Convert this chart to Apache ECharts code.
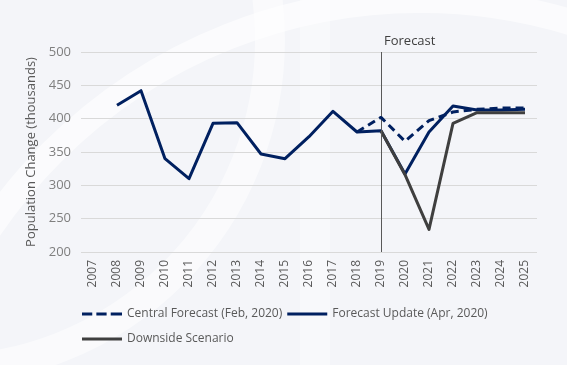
<!DOCTYPE html>
<html><head><meta charset="utf-8">
<script src="https://cdn.jsdelivr.net/npm/echarts@6/dist/echarts.min.js"></script>
<style>html,body{margin:0;padding:0;background:#f4f5f9}#c{width:567px;height:365px}</style>
</head><body><div id="c"></div>
<script>
const years = ['2007','2008','2009','2010','2011','2012','2013','2014','2015','2016','2017','2018','2019','2020','2021','2022','2023','2024','2025'];
const centralForecast = [null,null,null,null,null,null,null,null,null,null,null,380,402,366,397,410,414,416,416];
const forecastUpdate = [null,420,442,340,310,393,394,347,340,373,411,380,382,317,380,419,413,413,414];
const downside = [null,null,null,null,null,null,null,null,null,null,null,null,382,316,234,393,409,409,409];
const yTicks = [200,250,300,350,400,450,500];
const forecastYear = '2019';
const names = ['Central Forecast (Feb, 2020)','Forecast Update (Apr, 2020)','Downside Scenario'];

const dashIcon = 'path://M0,0h10v3h-10z M14,0h10v3h-10z M28,0h11v3h-11z';
const solidIcon = 'path://M0,0h40v3h-40z';
const chart = echarts.init(document.getElementById('c'));
const font = 'Open Sans, Noto Sans, sans-serif';
const legendBase = {
  itemWidth: 40, itemHeight: 4, itemGap: 5,
  textStyle: {color:'#595959', fontSize:12, fontFamily:font}
};
chart.setOption({
  backgroundColor: '#f4f5f9',
  animation: false,
  graphic: [
    {type:'circle', silent:true, z:-10, shape:{cx:420, cy:520, r:520}, style:{fill:'none', stroke:'#ffffff', lineWidth:26, opacity:0.6}},
    {type:'circle', silent:true, z:-10, shape:{cx:-60, cy:40, r:330}, style:{fill:'none', stroke:'#ffffff', lineWidth:30, opacity:0.5}},
    {type:'rect', silent:true, z:-10, shape:{x:300, y:0, width:30, height:365}, style:{fill:'#ffffff', opacity:0.4}}
  ],
  grid: {left:81, right:30, top:52, bottom:113},
  legend: [
    Object.assign({left:77, top:303, data:[{name:names[0], icon:dashIcon},{name:names[1], icon:solidIcon}]}, legendBase),
    Object.assign({left:77, top:328, data:[{name:names[2], icon:solidIcon}]}, legendBase)
  ],
  xAxis: {
    type:'category', data: years, boundaryGap:true,
    axisLine:{show:false}, axisTick:{show:false},
    axisLabel:{rotate:90, color:'#595959', fontSize:12, fontFamily:font, margin:8, interval:0}
  },
  yAxis: {
    type:'value', min:yTicks[0], max:yTicks[yTicks.length-1], interval:50,
    name:'Population Change (thousands)', nameLocation:'middle', nameGap:42,
    nameTextStyle:{color:'#595959', fontSize:13, fontFamily:font},
    axisLine:{show:false}, axisTick:{show:false},
    axisLabel:{color:'#7f7f7f', fontSize:13, fontFamily:font, margin:10},
    splitLine:{lineStyle:{color:'#d9d9d9', width:1}}
  },
  series: [
    {name:names[1], type:'line', data:forecastUpdate, symbol:'none', z:3,
     lineStyle:{color:'#002060', width:3, join:'round'}, itemStyle:{color:'#002060'},
     markLine:{silent:true, symbol:'none', label:{show:false},
       lineStyle:{color:'#595959', width:1, type:'solid'},
       data:[[{coord:[forecastYear, yTicks[0]]},{coord:[forecastYear, yTicks[yTicks.length-1]]}]]}},
    {name:names[2], type:'line', data:downside, symbol:'none', z:4,
     lineStyle:{color:'#3f3f3f', width:3, join:'round'}, itemStyle:{color:'#3f3f3f'}},
    {name:names[0], type:'line', data:centralForecast, symbol:'none', z:5,
     lineStyle:{color:'#002060', width:3, type:[8,5]}, itemStyle:{color:'#002060'}}
  ]
});
const p = chart.convertToPixel({xAxisIndex:0, yAxisIndex:0}, [forecastYear, yTicks[yTicks.length-1]]);
chart.setOption({graphic: [{}, {}, {}, {type:'text', silent:true, x:p[0]+3, y:p[1]-4,
  style:{text:'Forecast', fill:'#404040', fontSize:13, fontFamily:font, textVerticalAlign:'bottom'}}]});
</script></body></html>
